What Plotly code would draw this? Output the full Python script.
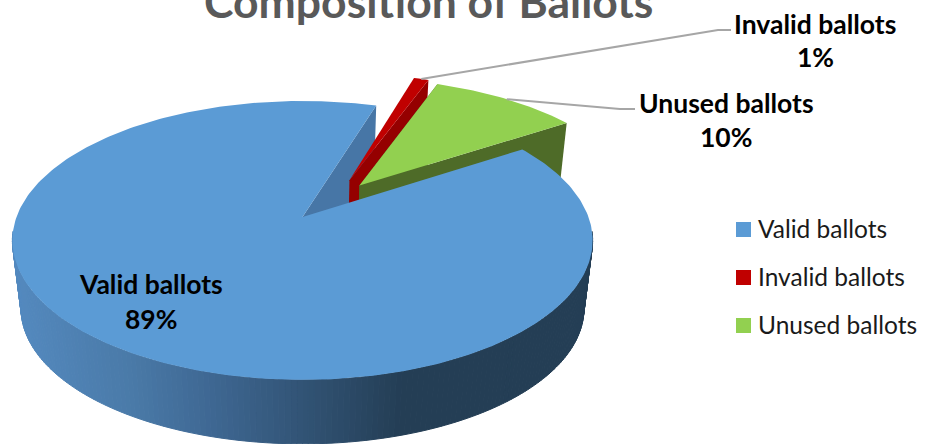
import math
import plotly.graph_objects as go

# Ballot shares, in percent
categories = ["Valid ballots", "Invalid ballots", "Unused ballots"]
shares = [89, 1, 10]

top_colors = ["#5b9bd5", "#c00000", "#92d050"]
wall_colors = ["#4776a6", "#950000", "#4e6b28"]

FIRST_SLICE_ANGLE = 57.0          # clockwise from twelve o'clock
EXPLODE = [(0.0, 0.0), (0.172, -0.285), (0.207, -0.241)]

# Pixel-scale view of the tilted disc
CX, CY = 302.5, 217.0
RX, RY = 286.0, 135.5
TILT = 0.168
VANISH_X, VANISH_Y = 302.5, 2513.0
SHRINK = 0.97

WALL_RAMP = [
    (10, (84, 138, 192)), (130, (74, 122, 168)), (200, (64, 106, 150)),
    (300, (50, 84, 118)), (400, (36, 62, 85)), (600, (36, 62, 85)),
]


def project(c, s, bottom=False):
    den = 1 - TILT * s
    x = CX + RX * c / den
    y = CY + RY * s / den
    if bottom:
        x = VANISH_X + (x - VANISH_X) * SHRINK
        y = VANISH_Y + (y - VANISH_Y) * SHRINK
    return x, y


def rim(angle, offset=(0.0, 0.0), bottom=False):
    a = math.radians(angle)
    return project(math.sin(a) + offset[0], -math.cos(a) + offset[1], bottom)


def ramp(x):
    for (x0, c0), (x1, c1) in zip(WALL_RAMP, WALL_RAMP[1:]):
        if x <= x1:
            t = max(0.0, (x - x0) / (x1 - x0))
            return "rgb(%d,%d,%d)" % tuple(round(p + (q - p) * t) for p, q in zip(c0, c1))
    return "rgb(36,62,85)"


def polygon(points, color, edge=False):
    xs, ys = zip(*points)
    return go.Scatter(
        x=list(xs) + [xs[0]], y=list(ys) + [ys[0]], mode="lines", fill="toself",
        fillcolor=color, line=dict(color=color, width=1 if edge else 0),
        hoverinfo="skip", showlegend=False,
    )


def top_face(start, end, offset):
    n = max(2, int(abs(end - start)))
    arc = [rim(start + (end - start) * i / n, offset) for i in range(n + 1)]
    return [project(*offset)] + arc


def radial_wall(angle, offset):
    return [project(*offset), rim(angle, offset), rim(angle, offset, True), project(*offset, True)]


# Slice spans in degrees, walking clockwise
spans = []
angle = FIRST_SLICE_ANGLE
for share in shares:
    spans.append((angle, angle + share / sum(shares) * 360))
    angle = spans[-1][1]
(valid_a, valid_b), (invalid_a, invalid_b), (unused_a, unused_b) = spans
# The last two spans wrap past a full turn
invalid_a, invalid_b = invalid_a - 360, invalid_b - 360
unused_a, unused_b = unused_a - 360, unused_b - 360

fig = go.Figure()

# Back to front: cut face of the large slice, then the pulled-out slices
fig.add_trace(polygon(radial_wall(valid_b, EXPLODE[0]), wall_colors[0]))
fig.add_trace(polygon(radial_wall(invalid_b, EXPLODE[1]), wall_colors[1]))
fig.add_trace(polygon(top_face(invalid_a, invalid_b, EXPLODE[1]), top_colors[1]))
fig.add_trace(polygon(radial_wall(unused_a, EXPLODE[2]), wall_colors[2]))
fig.add_trace(polygon(radial_wall(unused_b, EXPLODE[2]), wall_colors[2]))
fig.add_trace(polygon(top_face(unused_a, unused_b, EXPLODE[2]), top_colors[2]))

# Shaded outer wall of the large slice, one thin facet per degree
for a in range(96, 264):
    quad = [rim(a), rim(a + 1), rim(a + 1, bottom=True), rim(a, bottom=True)]
    mid_x = sum(p[0] for p in quad) / 4
    fig.add_trace(polygon(quad, ramp(mid_x), edge=True))

fig.add_trace(polygon(top_face(valid_a, valid_b, EXPLODE[0]), top_colors[0]))

# Leader lines from the rim midpoints out to the labels
invalid_anchor = rim((invalid_a + invalid_b) / 2, EXPLODE[1])
unused_anchor = rim((unused_a + unused_b) / 2, EXPLODE[2])
for anchor, elbow, end in [
    (invalid_anchor, (718, 30), (731, 30)),
    (unused_anchor, (620, 109), (635, 109)),
]:
    fig.add_trace(go.Scatter(
        x=[anchor[0], elbow[0], end[0]], y=[anchor[1], elbow[1], end[1]], mode="lines",
        line=dict(color="#a6a6a6", width=2), hoverinfo="skip", showlegend=False,
    ))

# Legend swatches
legend_y = [229.5, 277.5, 325.5]
for name, color, y in zip(categories, top_colors, legend_y):
    fig.add_trace(go.Scatter(
        x=[743.5], y=[y], mode="markers", name=name,
        marker=dict(symbol="square", size=15, color=color, line=dict(width=0)),
        hoverinfo="name", showlegend=False,
    ))

FONT = "Lato, Carlito, Calibri, sans-serif"
LABEL_FONT = dict(size=26.5, color="#000000", family=FONT, weight="bold")
annotations = [
    dict(text="Composition of Ballots", x=428, y=0, font=dict(size=44.5, color="#595959", family=FONT, weight="bold")),
]
label_pos = [(151, 284, 319), (815, 24, 57), (726, 103, 137)]
for name, share, (x, y1, y2) in zip(categories, shares, label_pos):
    annotations.append(dict(text=name, x=x, y=y1, font=LABEL_FONT))
    annotations.append(dict(text=f"{share}%", x=x, y=y2, font=LABEL_FONT))
for name, y in zip(categories, legend_y):
    annotations.append(dict(text=name, x=755.5, y=y - 1, xanchor="left", font=dict(size=24.5, color="#1a1a1a", family=FONT)))
for a in annotations:
    a.setdefault("xanchor", "center")
    a.update(xref="x", yref="y", yanchor="middle", showarrow=False)

fig.update_layout(
    width=925, height=444, margin=dict(l=0, r=0, t=0, b=0),
    paper_bgcolor="#ffffff", plot_bgcolor="#ffffff", showlegend=False,
    xaxis=dict(range=[0, 925], visible=False, fixedrange=True),
    yaxis=dict(range=[444, 0], visible=False, fixedrange=True),
    annotations=annotations,
)
fig.write_html("out.html", config=dict(displayModeBar=False))
